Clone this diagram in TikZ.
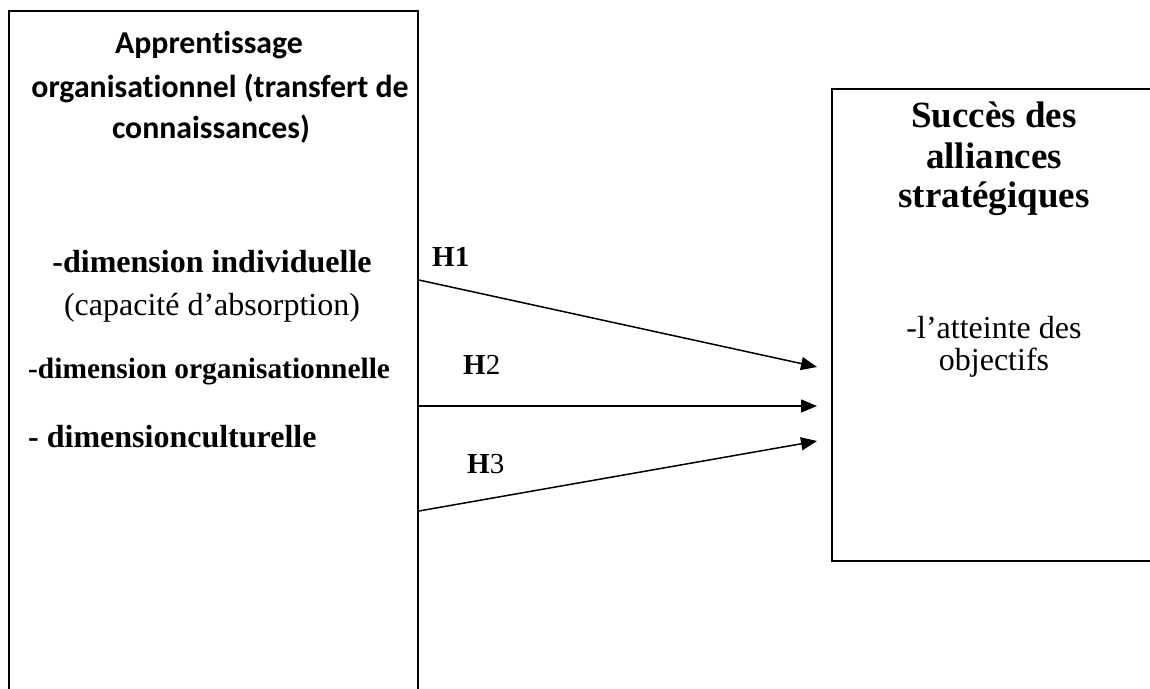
\documentclass[tikz,border=0pt]{standalone}
\usepackage{fontspec}
\setmainfont{Liberation Serif}
\newfontfamily\calib[Ligatures={NoCommon}]{Carlito}
\usetikzlibrary{arrows.meta}
\begin{document}
\begin{tikzpicture}[x=1pt,y=-1pt,
  boxst/.style={draw,line width=1.8pt,rectangle,inner sep=0pt},
  titlest/.style={anchor=base,font=\calib\bfseries\fontsize{31.8}{37}\selectfont,inner sep=0pt},
  dimst/.style={anchor=base,font=\bfseries\fontsize{32}{38}\selectfont,inner sep=0pt},
  txtst/.style={anchor=base,font=\fontsize{32}{38}\selectfont,inner sep=0pt},
  headst/.style={anchor=base,font=\bfseries\fontsize{37}{44}\selectfont,inner sep=0pt},
  hst/.style={anchor=base west,font=\fontsize{29}{34}\selectfont,inner sep=0pt},
  arr/.style={line width=1.5pt,-{Triangle[length=16pt,width=13pt]}}]
\useasboundingbox (0,0) rectangle (1150,688);
\node[boxst,minimum width=409pt,minimum height=689pt] (left) at (213.5,355.5) {};
\node[boxst,minimum width=328pt,minimum height=472pt] (right) at (996,325) {};
% left box texts
\node[titlest] (t1) at (209,53) {Apprentissage};
\node[titlest] (t2) at (220,97) {organisationnel (transfert de};
\node[titlest] (t3) at (211,138) {connaissances)};
\node[dimst] (d1) at (212,272) {-dimension individuelle};
\node[txtst] (d1b) at (212,315) {(capacité d’absorption)};
\node[anchor=base west,inner sep=0pt,font=\bfseries\fontsize{29.4}{34}\selectfont] (d2) at (28,378) {-dimension organisationnelle};
\node[anchor=base west,inner sep=0pt,font=\bfseries\fontsize{32}{38}\selectfont] (d3) at (28,447) {- dimensionculturelle};
% right box texts
\node[headst] (r1) at (994,127) {Succès des};
\node[headst] (r2) at (994,168) {alliances};
\node[headst] (r3) at (994,207) {stratégiques};
\node[txtst] (r4) at (994,338) {-l’atteinte des};
\node[txtst] (r5) at (994,370) {objectifs};
% hypotheses
\node[hst] (h1) at (432,266) {\textbf{H1}};
\node[hst] (h2) at (463,374) {\textbf{H}2};
\node[hst] (h3) at (467,473) {\textbf{H}3};
% connectors
\coordinate (s1) at (left.east |- 0,280);
\coordinate (s2) at (left.east |- 0,406);
\coordinate (s3) at (left.east |- 0,511);
\coordinate (e1) at (817,367);
\coordinate (e2) at (817,406);
\coordinate (e3) at (817,441);
\draw[arr] (s1) -- (e1);
\draw[arr] (s2) -- (e2);
\draw[arr] (s3) -- (e3);
\end{tikzpicture}
\end{document}
